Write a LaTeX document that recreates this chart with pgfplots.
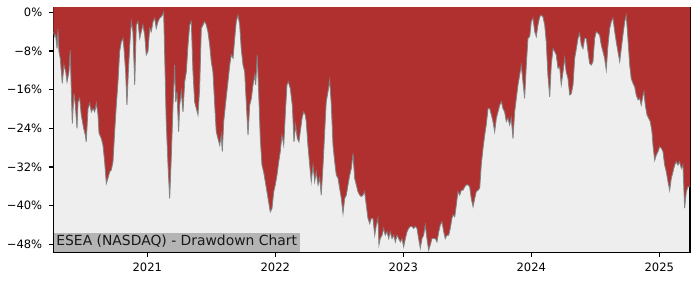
\documentclass[border=0pt]{standalone}
\usepackage{pgfplots}
\pgfplotsset{compat=1.18}
\usepackage{pgfplotstable}
\usepgfplotslibrary{fillbetween}
\usepackage{fontspec}
\setmainfont{DejaVu Sans}
\definecolor{ddred}{RGB}{176,48,48}
\definecolor{bgcol}{RGB}{238,238,238}
\definecolor{ddline}{RGB}{130,130,130}
\definecolor{boxgray}{RGB}{180,180,180}

\pgfplotstableread{
x y
2020.266 -4.0
2020.277 -5.0
2020.284 -4.7
2020.295 -7.5
2020.302 -3.5
2020.310 -8.1
2020.320 -9.5
2020.336 -14.7
2020.349 -10.9
2020.363 -12.3
2020.373 -14.4
2020.388 -12.3
2020.398 -7.8
2020.406 -15.7
2020.414 -23.0
2020.427 -16.8
2020.438 -19.2
2020.451 -24.0
2020.459 -18.5
2020.472 -17.8
2020.484 -21.2
2020.503 -24.0
2020.516 -25.4
2020.523 -26.8
2020.537 -19.9
2020.550 -18.8
2020.563 -20.6
2020.576 -19.9
2020.589 -20.6
2020.602 -18.8
2020.615 -21.2
2020.623 -25.0
2020.641 -26.1
2020.654 -27.5
2020.667 -30.9
2020.680 -35.4
2020.693 -34.3
2020.706 -33.0
2020.719 -32.6
2020.732 -30.9
2020.745 -24.7
2020.758 -19.2
2020.771 -14.4
2020.784 -8.1
2020.797 -6.1
2020.810 -5.4
2020.818 -7.5
2020.831 -12.3
2020.841 -19.2
2020.852 -12.3
2020.863 -6.8
2020.875 -1.9
2020.888 -4.0
2020.902 -15.0
2020.914 -2.6
2020.927 -1.9
2020.941 -5.4
2020.953 -4.0
2020.966 -2.6
2020.980 -4.7
2020.992 -8.8
2021.005 -8.1
2021.019 -3.3
2021.031 -4.0
2021.045 -1.9
2021.058 -1.2
2021.070 -3.3
2021.084 -1.9
2021.097 -1.2
2021.109 -0.9
2021.117 -0.6
2021.128 0
2021.136 -8.8
2021.148 -22.6
2021.162 -31.6
2021.175 -38.5
2021.188 -29.5
2021.201 -19.2
2021.214 -10.9
2021.222 -18.5
2021.232 -16.4
2021.245 -24.7
2021.253 -19.2
2021.266 -16.4
2021.279 -20.6
2021.292 -14.4
2021.305 -12.3
2021.318 -6.8
2021.331 -2.6
2021.344 -1.9
2021.357 -12.3
2021.370 -18.5
2021.383 -19.9
2021.396 -21.2
2021.409 -15.7
2021.422 -3.3
2021.435 -2.6
2021.448 -1.9
2021.461 -2.6
2021.474 -4.0
2021.488 -6.8
2021.500 -10.2
2021.513 -12.3
2021.527 -19.2
2021.539 -24.7
2021.552 -26.1
2021.566 -27.5
2021.578 -25.4
2021.586 -28.8
2021.597 -22.6
2021.613 -18.5
2021.630 -14.4
2021.644 -10.9
2021.656 -8.8
2021.670 -9.5
2021.683 -5.4
2021.695 -1.9
2021.709 -0.6
2021.722 -2.6
2021.734 -7.5
2021.748 -10.9
2021.761 -12.3
2021.773 -18.5
2021.787 -25.4
2021.800 -19.2
2021.813 -17.8
2021.826 -15.0
2021.839 -13.0
2021.847 -15.0
2021.859 -8.8
2021.873 -18.5
2021.883 -26.1
2021.896 -31.6
2021.909 -33.0
2021.922 -35.0
2021.935 -37.1
2021.948 -39.2
2021.961 -41.3
2021.974 -40.6
2021.988 -37.1
2022.000 -35.7
2022.013 -33.7
2022.027 -30.9
2022.039 -28.8
2022.052 -25.4
2022.066 -27.5
2022.078 -21.2
2022.091 -15.0
2022.102 -14.4
2022.117 -15.7
2022.133 -19.2
2022.138 -21.9
2022.146 -26.8
2022.159 -23.3
2022.172 -26.1
2022.185 -26.8
2022.195 -24.7
2022.209 -21.9
2022.222 -20.6
2022.234 -21.2
2022.242 -22.6
2022.255 -27.5
2022.269 -31.6
2022.281 -35.0
2022.295 -31.6
2022.308 -35.0
2022.320 -33.0
2022.334 -35.7
2022.347 -34.3
2022.359 -37.8
2022.373 -31.6
2022.386 -24.7
2022.398 -18.5
2022.412 -16.4
2022.425 -14.0
2022.438 -19.2
2022.451 -27.5
2022.464 -30.9
2022.477 -33.7
2022.490 -34.3
2022.503 -36.4
2022.516 -38.5
2022.529 -41.6
2022.542 -38.5
2022.555 -37.8
2022.568 -35.7
2022.581 -33.7
2022.594 -32.3
2022.607 -29.2
2022.620 -34.3
2022.633 -35.7
2022.646 -37.1
2022.659 -37.8
2022.672 -38.1
2022.685 -37.8
2022.698 -37.1
2022.711 -39.9
2022.724 -42.6
2022.738 -43.7
2022.750 -42.6
2022.763 -42.6
2022.777 -46.1
2022.789 -44.0
2022.802 -42.6
2022.810 -48.1
2022.820 -46.8
2022.834 -46.1
2022.847 -44.7
2022.859 -46.1
2022.873 -45.4
2022.886 -46.8
2022.898 -45.4
2022.912 -46.8
2022.925 -46.1
2022.938 -47.5
2022.951 -46.1
2022.964 -46.8
2022.977 -47.5
2022.990 -46.8
2023.003 -48.5
2023.016 -46.8
2023.029 -45.4
2023.042 -44.7
2023.055 -44.3
2023.068 -44.3
2023.081 -44.7
2023.094 -44.3
2023.107 -44.7
2023.120 -46.8
2023.133 -48.8
2023.146 -46.8
2023.159 -46.1
2023.172 -44.0
2023.185 -46.8
2023.198 -49.2
2023.211 -48.1
2023.224 -46.8
2023.238 -46.8
2023.250 -46.8
2023.263 -47.5
2023.277 -45.4
2023.289 -44.0
2023.302 -43.3
2023.316 -45.4
2023.328 -46.8
2023.341 -46.1
2023.355 -46.1
2023.367 -44.7
2023.380 -42.6
2023.388 -41.9
2023.402 -42.3
2023.414 -39.9
2023.427 -37.1
2023.441 -37.8
2023.453 -36.8
2023.466 -36.8
2023.480 -36.1
2023.492 -35.7
2023.505 -35.7
2023.519 -36.1
2023.531 -38.5
2023.545 -40.2
2023.558 -38.5
2023.570 -37.1
2023.584 -36.8
2023.597 -36.4
2023.609 -31.6
2023.623 -28.1
2023.636 -25.4
2023.648 -23.3
2023.662 -19.9
2023.675 -19.9
2023.688 -21.2
2023.701 -22.6
2023.714 -24.7
2023.727 -21.9
2023.740 -20.6
2023.753 -19.2
2023.766 -18.5
2023.779 -19.9
2023.792 -20.6
2023.805 -22.6
2023.818 -21.9
2023.831 -23.3
2023.844 -21.9
2023.857 -26.1
2023.870 -20.6
2023.883 -17.8
2023.896 -15.0
2023.909 -13.0
2023.922 -10.9
2023.935 -14.4
2023.948 -17.8
2023.961 -10.9
2023.974 -5.4
2023.988 -5.0
2024.000 -1.9
2024.013 -1.2
2024.027 -4.0
2024.039 -5.0
2024.052 -2.6
2024.066 -0.9
2024.078 -0.6
2024.091 -0.9
2024.105 -2.6
2024.117 -6.1
2024.130 -13.0
2024.144 -17.5
2024.156 -10.9
2024.170 -7.5
2024.183 -8.1
2024.195 -8.8
2024.209 -11.6
2024.222 -11.3
2024.234 -15.0
2024.248 -12.3
2024.261 -9.5
2024.273 -12.3
2024.287 -13.7
2024.300 -17.1
2024.313 -16.8
2024.326 -15.0
2024.339 -9.5
2024.352 -7.5
2024.365 -5.4
2024.378 -4.3
2024.391 -6.8
2024.404 -7.5
2024.417 -5.4
2024.430 -5.4
2024.443 -8.1
2024.456 -10.6
2024.469 -10.9
2024.482 -10.2
2024.495 -5.4
2024.508 -4.0
2024.521 -4.3
2024.534 -4.7
2024.547 -6.8
2024.560 -8.1
2024.573 -9.5
2024.586 -11.9
2024.599 -6.8
2024.613 -3.3
2024.625 -1.9
2024.638 -1.2
2024.652 -4.0
2024.664 -6.1
2024.677 -8.1
2024.691 -10.2
2024.703 -7.5
2024.716 -4.7
2024.730 -1.9
2024.742 -0.6
2024.755 -5.4
2024.769 -10.9
2024.781 -13.7
2024.795 -14.7
2024.808 -15.4
2024.820 -17.1
2024.834 -18.1
2024.847 -17.8
2024.859 -19.2
2024.873 -17.1
2024.880 -16.4
2024.891 -19.2
2024.904 -21.2
2024.917 -21.9
2024.930 -22.6
2024.943 -24.7
2024.951 -27.5
2024.964 -30.6
2024.977 -29.5
2024.990 -28.8
2025.003 -27.8
2025.016 -28.1
2025.029 -28.8
2025.042 -31.6
2025.055 -33.0
2025.068 -35.0
2025.081 -36.8
2025.094 -34.3
2025.107 -33.0
2025.120 -31.6
2025.133 -30.9
2025.146 -31.6
2025.159 -30.9
2025.172 -32.3
2025.185 -31.6
2025.198 -40.5
2025.211 -37.1
2025.224 -36.1
2025.240 -36.1
}\ddtable

\begin{document}
\begin{tikzpicture}
\begin{axis}[
  scale only axis,
  width=458.4pt, height=176.2pt,
  xmin=2020.266, xmax=2025.24,
  ymin=-49.6, ymax=1.03,
  axis background/.style={fill=bgcol},
  axis line style={line width=0.8pt, black},
  tick align=outside,
  major tick length=3.5pt,
  every tick/.style={black, line width=0.8pt},
  xtick pos=bottom, ytick pos=left,
  xtick={2021,2022,2023,2024,2025},
  xticklabels={2021,2022,2023,2024,2025},
  ytick={-48,-40,-32,-24,-16,-8,0},
  yticklabels={−48\%,−40\%,−32\%,−24\%,−16\%,−8\%,0\%},
  scaled x ticks=false,
  tick label style={font=\fontsize{8.3}{10}\selectfont, text=black},
  xticklabel style={yshift=-1pt},
  yticklabel style={xshift=-1pt},
  clip=true,
]
\addplot[name path=dd, draw=none, forget plot] table {\ddtable};
\addplot[name path=top, draw=none, forget plot] coordinates {(2020.266,5) (2025.24,5)};
\addplot[fill=ddred, draw=none, forget plot] fill between[of=dd and top];
\addplot[draw=ddline, line width=0.6pt, forget plot] table {\ddtable};
\node[anchor=south west, fill=boxgray, inner sep=2pt, text height=7.5pt, text depth=2.3pt, font=\fontsize{10}{12}\selectfont, text=black!90] at (rel axis cs:0,0) {ESEA (NASDAQ) - Drawdown Chart};
\end{axis}
\path ([xshift=-38.4pt,yshift=-20.2pt]current axis.south west) rectangle ([xshift=7.2pt,yshift=5.3pt]current axis.north east);
\end{tikzpicture}
\end{document}
